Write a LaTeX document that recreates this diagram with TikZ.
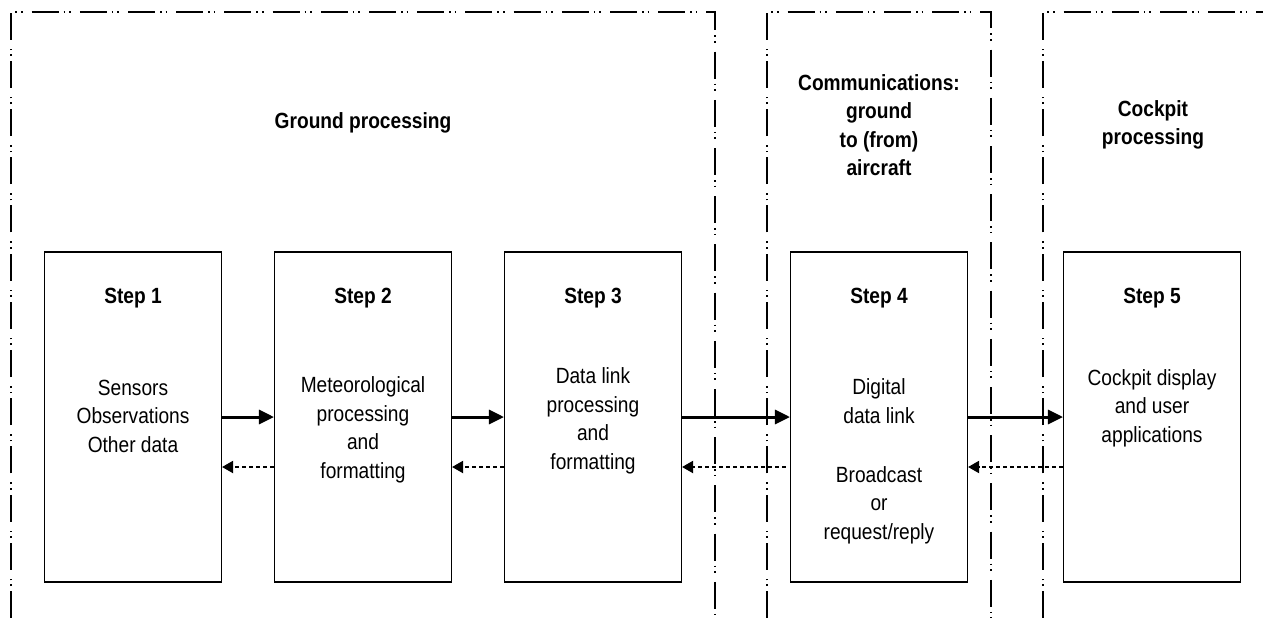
\documentclass[tikz,border=0pt]{standalone}
\usepackage{fontspec}
\setmainfont{Liberation Sans}[FakeStretch=0.87]
\usetikzlibrary{arrows.meta}
\tikzset{
  region/.style={line width=2pt, line cap=butt,
    dash pattern=on 27pt off 5pt on 1.6pt off 4pt on 1.6pt off 9pt},
  stepbox/.style={draw, line width=1.1pt, minimum width=177pt, minimum height=330pt, inner sep=0pt},
  txt/.style={font=\fontsize{22}{28.5}\selectfont, align=center, inner sep=0pt},
  hdr/.style={font=\fontsize{22}{28.5}\selectfont\bfseries, align=center, inner sep=0pt},
  fwd/.style={line width=3pt, -{Triangle[length=15pt,width=14pt]}},
  back/.style={line width=2pt, dash pattern=on 4pt off 3pt, -{Triangle[length=11pt,width=12pt]}},
}
\begin{document}
\begin{tikzpicture}[x=1pt,y=-1pt]
\useasboundingbox (0,0) rectangle (1263,618);
% regions
\draw[region] (11,618) -- (11,12) -- (715,12) -- (715,618);
\draw[region] (767,618) -- (767,12) -- (991,12) -- (991,618);
\draw[region] (1043,618) -- (1043,12) -- (1263,12);
% region headers
\node[hdr] (h1) at (363,123) {Ground processing};
\node[hdr] (h2) at (879,125) {Communications:\\ground\\to (from)\\aircraft};
\node[hdr] (h3) at (1153,125) {Cockpit\\processing};
% boxes
\node[stepbox, fill=white] (s1) at (133,417) {};
\node[stepbox, fill=white] (s2) at (363,417) {};
\node[stepbox, fill=white] (s3) at (593,417) {};
\node[stepbox, fill=white] (s4) at (879,417) {};
\node[stepbox, fill=white] (s5) at (1152,417) {};
% titles
\node[hdr] (t1) at (133,298) {Step 1};
\node[hdr] (t2) at (363,298) {Step 2};
\node[hdr] (t3) at (593,298) {Step 3};
\node[hdr] (t4) at (879,298) {Step 4};
\node[hdr] (t5) at (1152,298) {Step 5};
% bodies
\node[txt] (b1) at (133,416) {Sensors\\Observations\\Other data};
\node[txt] (b2) at (363,430) {Meteorological\\processing\\and\\formatting};
\node[txt] (b3) at (593,421) {Data link\\processing\\and\\formatting};
\node[txt] (b4) at (879,401) {Digital\\data link};
\node[txt] (b4b) at (879,505) {Broadcast\\or\\request/reply};
\node[txt] (b5) at (1152,408) {Cockpit display\\and user\\applications};
% arrows
\draw[fwd] (s1.east) -- (s2.west);
\draw[fwd] (s2.east) -- (s3.west);
\draw[fwd] (s3.east) -- (s4.west);
\draw[fwd] (s4.east) -- (s5.west);
\draw[back] ([yshift=-50pt]s2.west) -- ([yshift=-50pt]s1.east);
\draw[back] ([yshift=-50pt]s3.west) -- ([yshift=-50pt]s2.east);
\draw[back] ([yshift=-50pt,xshift=-4pt]s4.west) -- ([yshift=-50pt]s3.east);
\draw[back] ([yshift=-50pt]s5.west) -- ([yshift=-50pt]s4.east);
\end{tikzpicture}
\end{document}
